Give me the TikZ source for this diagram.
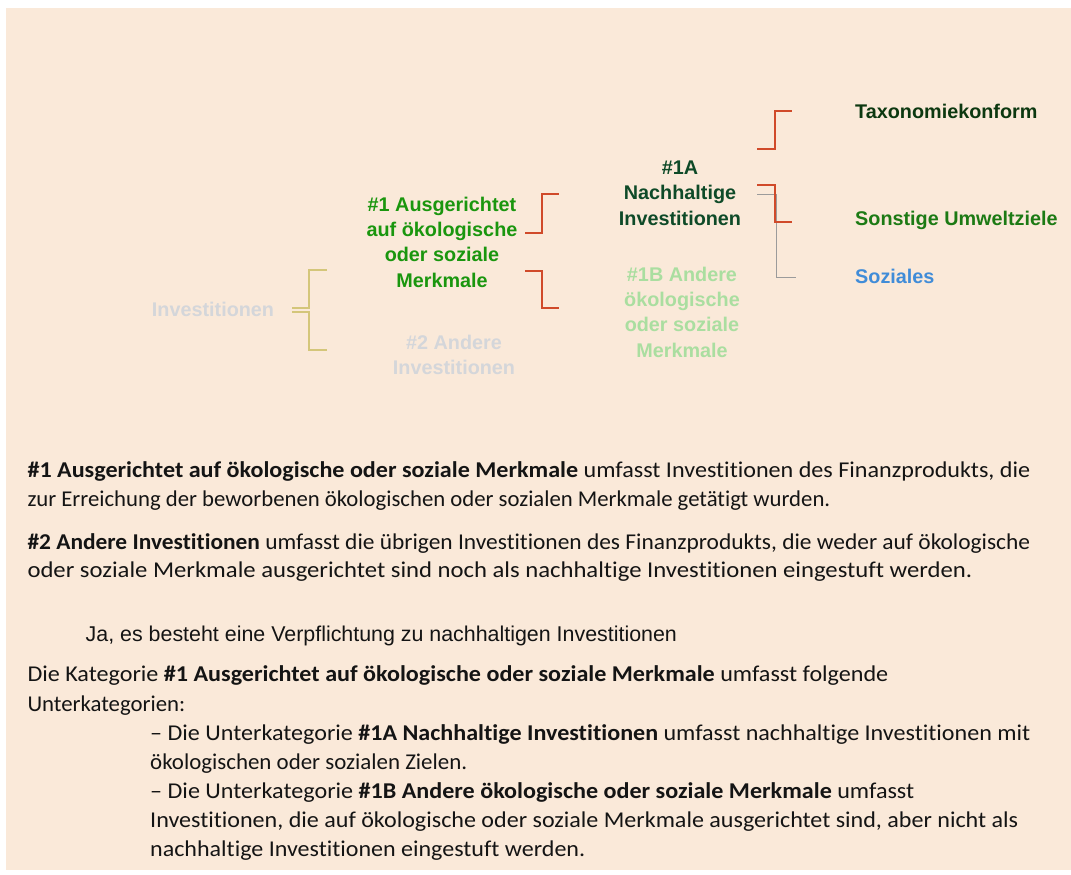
\documentclass[tikz,border=0pt]{standalone}
\usepackage{fontspec}
\usepackage{graphicx}
\setmainfont{Carlito}[Ligatures=NoCommon]
\newfontfamily\arialf{Liberation Sans}
\newcommand{\fitw}[2]{\resizebox{#1pt}{\height}{#2}}
\definecolor{bgc}{RGB}{250,233,217}
\definecolor{greyT}{RGB}{212,214,218}
\definecolor{gOne}{RGB}{26,150,14}
\definecolor{gOneA}{RGB}{14,74,40}
\definecolor{gOneB}{RGB}{170,222,160}
\definecolor{taxC}{RGB}{12,56,16}
\definecolor{sonC}{RGB}{28,122,20}
\definecolor{sozC}{RGB}{64,140,216}
\definecolor{oliveC}{RGB}{212,198,122}
\definecolor{redC}{RGB}{208,74,42}
\definecolor{greyL}{RGB}{155,155,155}
\definecolor{txt}{RGB}{20,20,20}
\begin{document}
\begin{tikzpicture}[x=1pt,y=-1pt,
  lab/.style={font=\arialf\bfseries\fontsize{19.8}{25.3}\selectfont, align=center, inner sep=0pt},
  body/.style={anchor=base west, inner sep=0pt, font=\fontsize{22.6}{28.8}\selectfont, text=txt},
  jabody/.style={anchor=base west, inner sep=0pt, font=\arialf\fontsize{21.4}{26}\selectfont, text=txt},
  obr/.style={draw=oliveC, line width=2pt},
  rbr/.style={draw=redC, line width=2pt},
  gbr/.style={draw=greyL, line width=1.5pt}]
\useasboundingbox (0,0) rectangle (1071,875);
\fill[bgc] (6,8) rectangle (1071,870);

% diagram labels
\node[lab, text=greyT] (inv) at (213,309) {Investitionen};
\node[lab, text=gOne] (n1) at (442,242) {\#1 Ausgerichtet\\auf ökologische\\oder soziale\\Merkmale};
\node[lab, text=greyT] (n2) at (454,355) {\#2 Andere\\Investitionen};
\node[lab, text=gOneA] (n1a) at (680,193) {\#1A\\Nachhaltige\\Investitionen};
\node[lab, text=gOneB] (n1b) at (682,312) {\#1B Andere\\ökologische\\oder soziale\\Merkmale};
\node[lab, text=taxC, anchor=west] (tax) at (855,111) {Taxonomiekonform};
\node[lab, text=sonC, anchor=west] (son) at (855,220) {Sonstige Umweltziele};
\node[lab, text=sozC, anchor=west] (soz) at (855,276) {Soziales};

% connector end points
\coordinate (invA) at (292,308);
\coordinate (invB) at (292,312);
\coordinate (n1in) at (327,270);
\coordinate (n2in) at (327,350);
\coordinate (n1oA) at (525,232.7);
\coordinate (n1oB) at (525,270.7);
\coordinate (n1ain) at (559,194.3);
\coordinate (n1bin) at (559,308.3);
\coordinate (n1aoT) at (757.3,149);
\coordinate (n1aoS) at (757.3,185);
\coordinate (n1aoZ) at (757.3,194.3);
\coordinate (taxin) at (791.7,110.7);
\coordinate (sonin) at (791.7,222.3);
\coordinate (sozin) at (795.7,277.7);

% connectors
\draw[obr] (invA) -| (309,270) -- (n1in);
\draw[obr] (invB) -| (309,350) -- (n2in);
\draw[rbr] (n1oA) -| (542,194.3) -- (n1ain);
\draw[rbr] (n1oB) -| (542,308.3) -- (n1bin);
\draw[gbr] (n1aoZ) -| (776.7,277.7) -- (sozin);
\draw[rbr] (n1aoT) -| (775,110.7) -- (taxin);
\draw[rbr] (n1aoS) -| (775,222.3) -- (sonin);

% body text
\node[body] (p1a) at (27.3,477.3) {\fitw{1002.7}{\textbf{\#1 Ausgerichtet auf ökologische oder soziale Merkmale} umfasst Investitionen des Finanzprodukts, die}};
\node[body] (p1b) at (27.3,506) {\fitw{802.7}{zur Erreichung der beworbenen ökologischen oder sozialen Merkmale getätigt wurden.}};
\node[body] (p2a) at (27.3,549) {\fitw{1002.7}{\textbf{\#2 Andere Investitionen} umfasst die übrigen Investitionen des Finanzprodukts, die weder auf ökologische}};
\node[body] (p2b) at (27.3,577.7) {\fitw{944.7}{oder soziale Merkmale ausgerichtet sind noch als nachhaltige Investitionen eingestuft werden.}};
\node[jabody] (ja) at (85.5,641.7) {Ja, es besteht eine Verpflichtung zu nachhaltigen Investitionen};
\node[body] (p3a) at (27.3,681.7) {\fitw{860.7}{Die Kategorie \textbf{\#1 Ausgerichtet auf ökologische oder soziale Merkmale} umfasst folgende}};
\node[body] (p3b) at (27.3,711) {\fitw{157.7}{Unterkategorien:}};
\node[body] (p4a) at (150,740.7) {\fitw{880}{– Die Unterkategorie \textbf{\#1A Nachhaltige Investitionen} umfasst nachhaltige Investitionen mit}};
\node[body] (p4b) at (150,769.3) {\fitw{317}{ökologischen oder sozialen Zielen.}};
\node[body] (p5a) at (150,798.3) {\fitw{764}{– Die Unterkategorie \textbf{\#1B Andere ökologische oder soziale Merkmale} umfasst}};
\node[body] (p5b) at (150,827.3) {\fitw{868}{Investitionen, die auf ökologische oder soziale Merkmale ausgerichtet sind, aber nicht als}};
\node[body] (p5c) at (150,856) {\fitw{435}{nachhaltige Investitionen eingestuft werden.}};
\end{tikzpicture}
\end{document}
